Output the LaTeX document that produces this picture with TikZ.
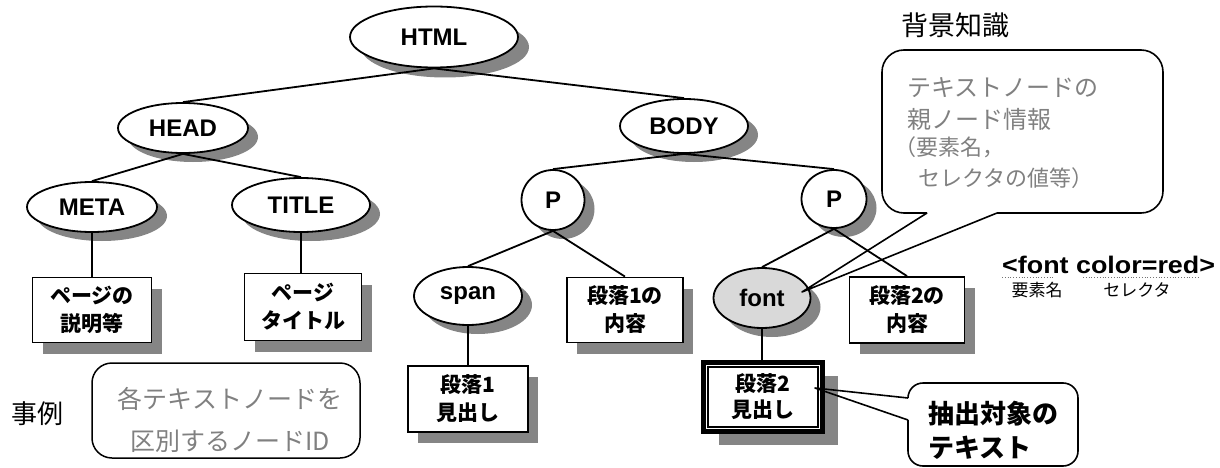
\documentclass[tikz,border=0pt]{standalone}
\usepackage{fontspec}
\setmainfont{Liberation Sans}
\newfontfamily\jp{Noto Sans CJK JP}
\newfontfamily\widesans[FakeStretch=1.12]{Liberation Sans}
\usetikzlibrary{shapes.geometric,calc}
\pgfdeclarelayer{shadowlayer}
\pgfdeclarelayer{edgelayer}
\pgfsetlayers{shadowlayer,edgelayer,main}
\definecolor{shadowgray}{gray}{0.52}
\definecolor{halftext}{gray}{0.5}
\definecolor{fontfill}{gray}{0.85}
\newcommand\withshadow[5]{%
  \begin{pgfonlayer}{shadowlayer}\node[#1,shadowcopy] (#2-sh) at ($#3+#4$) {};\end{pgfonlayer}
  \node[#1] (#2) at #3 {#5};}
\tikzset{
  ell/.style={ellipse, draw, line width=1.8, fill=white, inner sep=0,
    font=\fontsize{24}{28}\selectfont\bfseries},
  tbox/.style={rectangle, draw, line width=1.8, fill=white, inner sep=0, align=center,
    font=\jp\bfseries\fontsize{21}{28}\selectfont},
  shadowcopy/.style={draw=none, fill=shadowgray},
  edge/.style={line width=1.8},
  bubble/.style={line width=1.6, line join=round},
}
\begin{document}
\begin{tikzpicture}[x=1pt,y=-1pt]
\useasboundingbox (0,0) rectangle (1220,468);
% tree nodes
\withshadow{ell,minimum width=168,minimum height=61}{html}{(434,37)}{(11,10)}{HTML}
\withshadow{ell,minimum width=130,minimum height=50}{head}{(183,128)}{(10,9)}{HEAD}
\withshadow{ell,minimum width=128,minimum height=54}{body}{(684,126)}{(10,9)}{BODY}
\withshadow{ell,minimum width=130,minimum height=50}{meta}{(92,207)}{(10,9)}{META}
\withshadow{ell,minimum width=138,minimum height=54}{title}{(301,205)}{(10,9)}{TITLE}
\withshadow{ell,minimum width=63,minimum height=60}{p1}{(553,200)}{(10,9)}{P}
\withshadow{ell,minimum width=65,minimum height=58}{p2}{(834,199)}{(10,9)}{P}
\withshadow{ell,minimum width=108,minimum height=58}{span}{(468,296)}{(10,9)}{span}
\withshadow{ell,minimum width=97,minimum height=60,fill=fontfill}{font}{(762,298)}{(10,9)}{font}
% text boxes
\withshadow{tbox,minimum width=119,minimum height=65}{b1}{(92,310)}{(10,11)}{ページの\\説明等}
\withshadow{tbox,minimum width=117,minimum height=67}{b2}{(303,307)}{(10,11)}{ページ\\タイトル}
\withshadow{tbox,minimum width=116,minimum height=65}{b3}{(625,310)}{(10,11)}{段落1の\\内容}
\withshadow{tbox,minimum width=115,minimum height=66}{b4}{(907,310)}{(10,11)}{段落2の\\内容}
\withshadow{tbox,minimum width=120,minimum height=66}{b5}{(468,399)}{(10,11)}{段落1\\見出し}
\withshadow{tbox,line width=5,minimum width=119,minimum height=69,font=\jp\bfseries\fontsize{21}{26}\selectfont}{b6}{(763,397)}{(15,13)}{段落2\\見出し}
\draw[line width=1.4] ($(b6.north west)+(7,7)$) rectangle ($(b6.south east)+(-7,-7)$);
% edges
\begin{pgfonlayer}{edgelayer}
\draw[edge] (html.south) -- (head.north);
\draw[edge] (html.south) -- (body.north);
\draw[edge] (head.south) -- (meta.north);
\draw[edge] (head.south) -- (title.north);
\draw[edge] (body.south) -- (p1.north);
\draw[edge] (body.south) -- (p2.north);
\draw[edge] (meta.south) -- (b1.north);
\draw[edge] (title.south) -- (title.south |- b2.north);
\draw[edge] (p1.south) -- (span.north);
\draw[edge] (p1.south) -- (b3.north);
\draw[edge] (p2.south) -- (font.north);
\draw[edge] (p2.south) -- (b4.north);
\draw[edge] (span.south) -- (b5.north);
\draw[edge] (font.south) -- (font.south |- b6.north);
\end{pgfonlayer}
% example box
\node[draw, line width=1.5, rounded corners=20, minimum width=268, minimum height=95, inner sep=0] (jbox) at (226,410.5) {};
\node[font=\jp\fontsize{25}{42}\selectfont, text=halftext, align=center, inner sep=0] (jtext) at (230,420) {各テキストノードを\\区別するノードID};
\node[font=\jp\fontsize{26}{30}\selectfont, inner sep=0] (jirei) at (37,414) {事例};
% background knowledge bubble
\node[font=\jp\fontsize{27}{30}\selectfont, inner sep=0] (haikei) at (955,25) {背景知識};
\coordinate (tip1) at (802,292);
\draw[bubble, rounded corners=22] (997,213) -- (1163,213) -- (1163,50) -- (882,50) -- (882,213) -- (927,213);
\draw[bubble] (927,213) -- (tip1) -- (997,213);
\node[anchor=west, inner sep=0, text=halftext, font=\jp\fontsize{24}{28}\selectfont] (bt1) at (907,88) {テキストノードの};
\node[anchor=west, inner sep=0, text=halftext, font=\jp\fontsize{24}{28}\selectfont] (bt2) at (907,119) {親ノード情報};
\node[anchor=west, inner sep=0, text=halftext, font=\jp\fontsize{22}{26}\selectfont] (bt3) at (894,147) {（要素名，};
\node[anchor=west, inner sep=0, text=halftext, font=\jp\fontsize{22}{26}\selectfont] (bt4) at (918,178) {セレクタの値等）};
% extraction target bubble
\coordinate (tip2) at (815,388);
\draw[bubble, rounded corners=15] (908,398) -- (908,383) -- (1078,383) -- (1078,466) -- (908,466) -- (908,420);
\draw[bubble] (908,398) -- (tip2) -- (908,420);
\node[anchor=west, align=left, inner sep=0, font=\jp\bfseries\fontsize{26}{34}\selectfont] (ctext) at (928,430) {抽出対象の\\テキスト};
% font color=red annotation
\node[anchor=base west, inner sep=0, font=\widesans\bfseries\fontsize{24}{28}\selectfont] (fc) at (1002,273) {<font color=red>};
\draw[dotted, line width=0.8, black!55] (1002,277) -- (1053,277);
\draw[dotted, line width=0.8, black!55] (1083,277) -- (1200,277);
\node[font=\jp\fontsize{17}{20}\selectfont, inner sep=0] (yoso) at (1037,290) {要素名};
\node[font=\jp\fontsize{17}{20}\selectfont, inner sep=0] (sel) at (1137,290) {セレクタ};
\end{tikzpicture}
\end{document}
